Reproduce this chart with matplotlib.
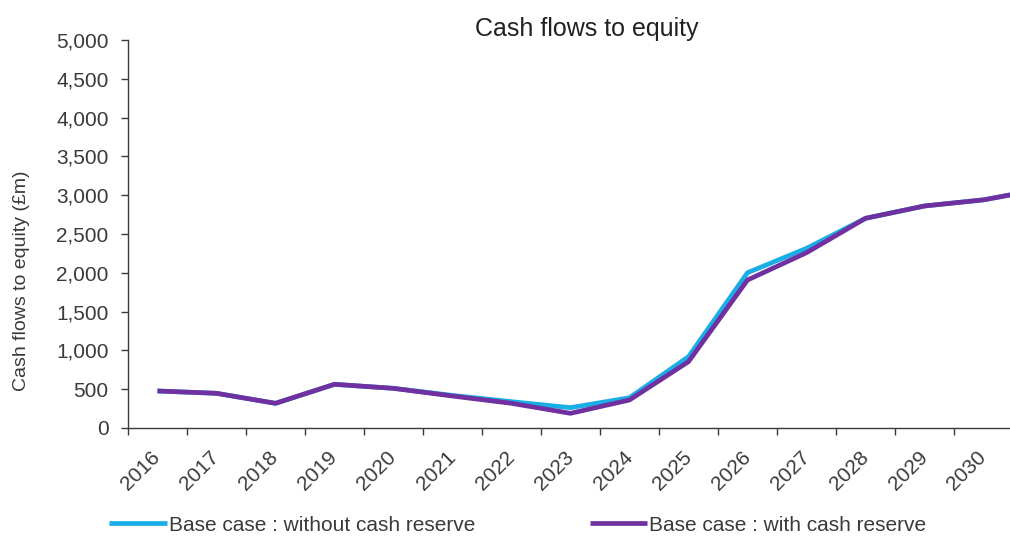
import numpy as np
import matplotlib
matplotlib.use("Agg")
import matplotlib.pyplot as plt
from matplotlib.ticker import FuncFormatter, FixedLocator

plt.rcParams['font.family'] = ['Liberation Sans', 'DejaVu Sans']

# cash flows to equity, £m (the 2031 point runs off the right edge)
years = ["2016", "2017", "2018", "2019", "2020", "2021", "2022", "2023",
         "2024", "2025", "2026", "2027", "2028", "2029", "2030", "2031"]
without_reserve = [477, 447, 318, 563, 511, 420, 339, 262,
                   390, 919, 2001, 2315, 2702, 2861, 2940, 3080]
with_reserve = [477, 447, 318, 563, 511, 412, 318, 189,
                361, 855, 1907, 2259, 2702, 2861, 2940, 3080]
series_names = ["Base case : without cash reserve", "Base case : with cash reserve"]

txt = '#3a3a3a'
cyan = '#1aaee6'
purple = '#7030a0'

fig = plt.figure(figsize=(10.1, 5.36), dpi=100)
ax = fig.add_axes([0.1267, 0.2015, 0.9347, 0.7239])

x = np.arange(len(years))
l1, = ax.plot(x, without_reserve, color=cyan, lw=3.4, solid_capstyle='butt')
l2, = ax.plot(x, with_reserve, color=purple, lw=3.4, solid_capstyle='butt')

ax.set_xlim(-0.5, len(years) - 0.5)
ax.set_ylim(0, 5000)
ax.set_yticks(np.arange(0, 5001, 500))
ax.yaxis.set_major_formatter(FuncFormatter(lambda v, p: f"{int(v):,}"))

# category labels at the centres, tick marks at the boundaries;
# the last category sits past the edge, so it gets no label
ax.set_xticks(x)
ax.set_xticklabels(years[:-1] + [""], rotation=45, ha='right', va='center',
                   rotation_mode='anchor')
ax.xaxis.set_minor_locator(FixedLocator(np.arange(-0.5, len(years), 1.0)))
ax.tick_params(axis='x', which='major', length=0, pad=19, labelsize=15,
               colors=txt)
ax.tick_params(axis='x', which='minor', length=5, width=1, color=txt)
ax.tick_params(axis='y', length=5, width=1, pad=9, labelsize=15,
               colors=txt)

for side in ['top', 'right']:
    ax.spines[side].set_visible(False)
for side in ['left', 'bottom']:
    ax.spines[side].set_color(txt)
    ax.spines[side].set_linewidth(1)

ax.set_ylabel("Cash flows to equity (£m)", fontsize=14, color=txt)
ax.yaxis.set_label_coords(-0.104, 0.379)

fig.text(0.581, 0.946, "Cash flows to equity", fontsize=18, color='#222222',
         ha='center', va='center')

fig.legend([l1, l2], series_names, loc='center left',
           bbox_to_anchor=(0.100, 0.02), ncol=2, frameon=False,
           fontsize=15, handlelength=2.75, handletextpad=0.1,
           columnspacing=5.5, labelcolor=txt, borderaxespad=0)

fig.savefig("out.png", dpi=100)
